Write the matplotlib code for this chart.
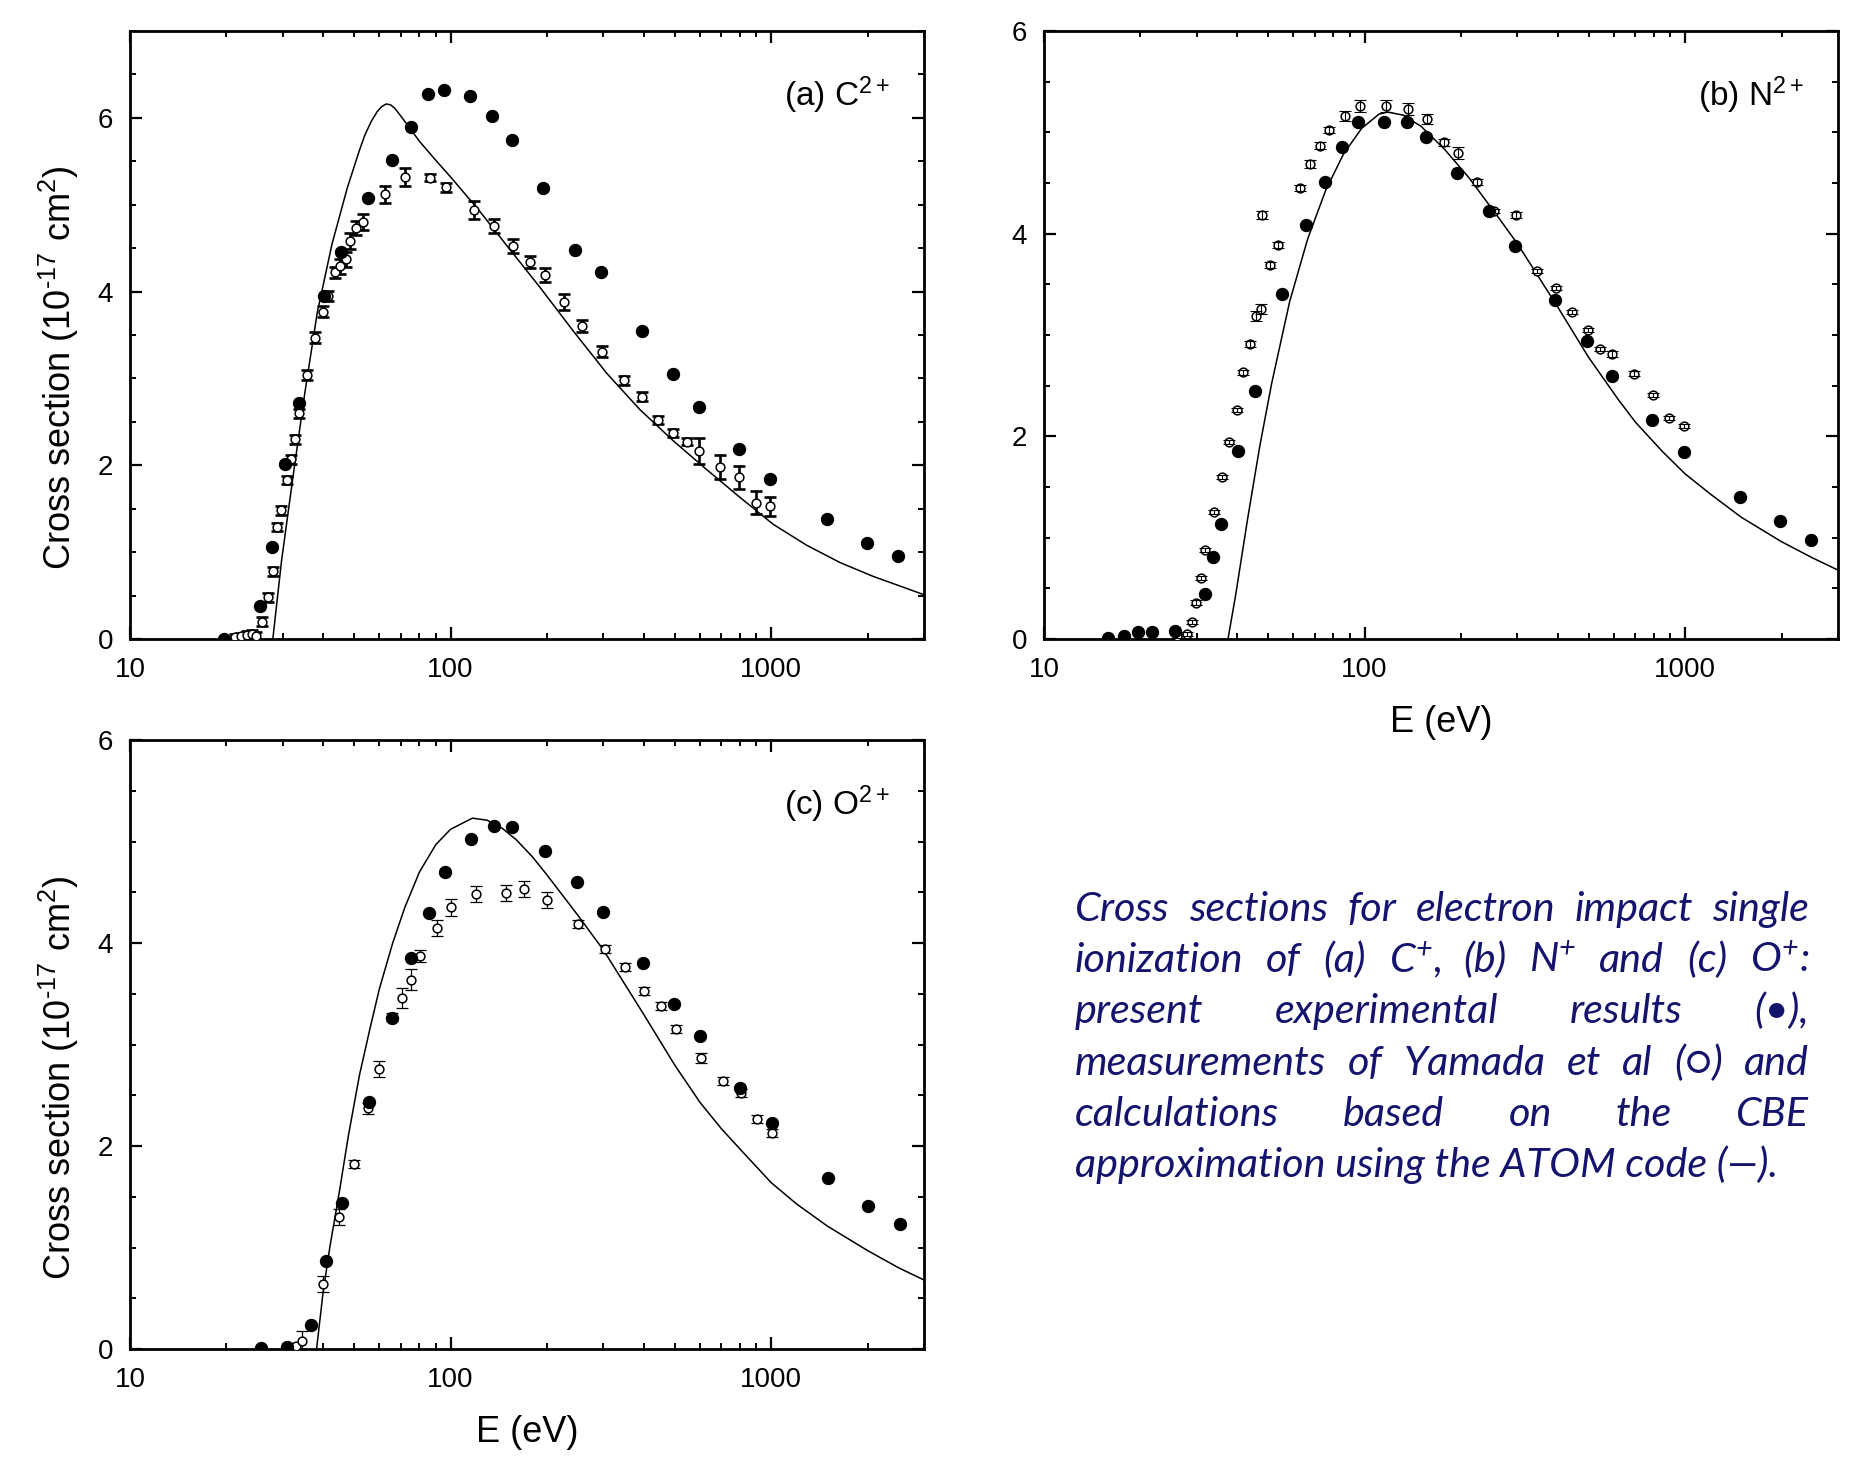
import matplotlib
matplotlib.use('Agg')
import matplotlib.pyplot as plt
from matplotlib.ticker import MultipleLocator, NullFormatter

plt.rcParams['font.family'] = ['Liberation Sans', 'DejaVu Sans']
plt.rcParams['mathtext.fontset'] = 'custom'
plt.rcParams['mathtext.rm'] = 'Liberation Sans'
plt.rcParams['mathtext.it'] = 'Liberation Sans:italic'
plt.rcParams['mathtext.default'] = 'regular'

# (a) C2+
a_exp_e = [19.6, 25.4, 27.7, 30.5, 33.6, 40.2, 45.6, 55.4, 65.5, 75.2, 84.9, 95.3, 115, 135, 155,
           195, 245, 295, 395, 495, 595, 795, 995, 1495, 1995, 2495]
a_exp_y = [0.0, 0.38, 1.06, 2.01, 2.72, 3.95, 4.45, 5.08, 5.52, 5.89, 6.27, 6.32, 6.25, 6.02, 5.74,
           5.19, 4.48, 4.22, 3.55, 3.05, 2.67, 2.19, 1.84, 1.38, 1.10, 0.96]
a_yam_e = [21.3, 22.2, 23.1, 24.0, 24.8, 25.8, 27.0, 28.0, 28.8, 29.6, 30.9, 31.7, 32.7, 33.6, 35.6,
           37.9, 39.9, 41.6, 43.6, 45.2, 47.2, 48.6, 50.6, 53.5, 62.4, 72.3, 86.2, 97, 118, 137,
           157, 177, 197, 226, 257, 296, 348, 397, 444, 495, 545, 597, 694, 796, 897, 993]
a_yam_y = [0.02, 0.03, 0.05, 0.06, 0.04, 0.20, 0.48, 0.78, 1.29, 1.48, 1.83, 2.07, 2.30, 2.60, 3.04,
           3.47, 3.77, 3.95, 4.22, 4.29, 4.37, 4.58, 4.73, 4.80, 5.12, 5.32, 5.31, 5.20, 4.94, 4.76,
           4.52, 4.34, 4.19, 3.88, 3.60, 3.31, 2.98, 2.79, 2.52, 2.37, 2.27, 2.16, 1.98, 1.86, 1.57, 1.53]
a_yam_err = [0.04, 0.04, 0.04, 0.04, 0.04, 0.05, 0.05, 0.05, 0.05, 0.05, 0.05, 0.05, 0.05, 0.05, 0.06,
             0.06, 0.06, 0.06, 0.06, 0.09, 0.09, 0.09, 0.08, 0.09, 0.10, 0.10, 0.04, 0.05, 0.10, 0.08,
             0.08, 0.07, 0.08, 0.09, 0.07, 0.06, 0.05, 0.05, 0.05, 0.05, 0.04, 0.15, 0.14, 0.13, 0.13, 0.11]
a_cbe_e = [27.9, 29.7, 32.2, 35.1, 38.4, 42.7, 47.6, 51.9, 54, 56.6, 59, 61, 63, 65, 67,
           70, 74, 80, 90, 100, 123, 152, 190, 241, 307, 390, 496, 630, 800, 1016,
           1291, 1641, 2085, 3000]
a_cbe_y = [0.0, 0.90, 1.85, 2.83, 3.76, 4.55, 5.19, 5.62, 5.80, 5.96, 6.07, 6.13, 6.16, 6.15, 6.11,
           6.02, 5.90, 5.73, 5.51, 5.32, 4.93, 4.50, 4.05, 3.55, 3.06, 2.64, 2.28, 1.95, 1.63, 1.32,
           1.08, 0.88, 0.72, 0.51]

# (b) N2+
b_exp_e = [15.8, 17.8, 19.6, 21.7, 25.6, 31.7, 33.6, 35.6, 40.4, 45.4, 55.4, 65.6, 75.3, 85, 95.3,
           115, 136, 155, 195, 244, 295, 393, 494, 591, 789, 991, 1486, 1974, 2471]
b_exp_y = [0.01, 0.03, 0.07, 0.07, 0.08, 0.44, 0.81, 1.13, 1.86, 2.45, 3.40, 4.09, 4.51, 4.86, 5.10,
           5.10, 5.10, 4.95, 4.60, 4.22, 3.88, 3.35, 2.94, 2.60, 2.16, 1.85, 1.40, 1.16, 0.98]
b_yam_e = [26, 27.9, 29, 29.9, 30.9, 31.7, 33.8, 35.9, 37.9, 40, 41.8, 44, 45.9, 47.7, 47.9,
           50.7, 53.9, 62.8, 67.6, 72.8, 77.6, 87.2, 97, 117, 137, 157, 177, 196, 224, 254,
           296, 344, 396, 445, 498, 543, 592, 694, 796, 893, 990]
b_yam_y = [0.03, 0.05, 0.17, 0.36, 0.60, 0.88, 1.25, 1.60, 1.94, 2.26, 2.63, 2.91, 3.19, 3.26, 4.18,
           3.69, 3.89, 4.45, 4.69, 4.87, 5.02, 5.16, 5.26, 5.26, 5.23, 5.13, 4.90, 4.80, 4.51, 4.22,
           4.18, 3.63, 3.46, 3.23, 3.05, 2.86, 2.81, 2.62, 2.41, 2.18, 2.10]
b_yam_err = [0.02, 0.02, 0.02, 0.02, 0.02, 0.02, 0.02, 0.02, 0.02, 0.02, 0.02, 0.03, 0.05, 0.05, 0.04,
             0.03, 0.03, 0.03, 0.04, 0.03, 0.03, 0.05, 0.06, 0.06, 0.06, 0.05, 0.03, 0.06, 0.03, 0.02,
             0.03, 0.02, 0.02, 0.02, 0.02, 0.02, 0.03, 0.02, 0.02, 0.02, 0.02]
b_cbe_e = [37.5, 39.6, 43.2, 47.1, 51.3, 58.4, 66.5, 75.7, 86.1, 98, 111, 118, 132, 150, 178,
           212, 263, 300, 400, 500, 620, 700, 850, 1000, 1200, 1500, 2000, 2500, 3000]
b_cbe_y = [0.0, 0.43, 1.19, 1.90, 2.52, 3.33, 3.95, 4.43, 4.79, 5.04, 5.18, 5.20, 5.17, 5.06, 4.83,
           4.55, 4.15, 3.90, 3.28, 2.78, 2.36, 2.14, 1.85, 1.63, 1.43, 1.20, 0.96, 0.80, 0.68]

# (c) O2+
c_exp_e = [25.6, 30.9, 36.7, 40.8, 45.7, 55.8, 65.8, 75.5, 85.6, 96.1, 116, 137, 156, 197, 248,
           299, 398, 499, 601, 802, 1009, 1507, 2012, 2518]
c_exp_y = [0.01, 0.02, 0.24, 0.87, 1.44, 2.43, 3.26, 3.85, 4.30, 4.70, 5.02, 5.15, 5.14, 4.91, 4.60,
           4.31, 3.80, 3.40, 3.08, 2.57, 2.23, 1.68, 1.41, 1.23]
c_yam_e = [33, 34.5, 40, 45, 50.1, 55.1, 60, 65.8, 70.5, 75.5, 80.5, 90.5, 100, 120, 149,
           170, 200, 250, 303, 350, 402, 454, 505, 603, 707, 806, 905, 1009]
c_yam_y = [0.03, 0.08, 0.64, 1.30, 1.82, 2.37, 2.76, 3.27, 3.46, 3.64, 3.87, 4.15, 4.35, 4.48, 4.49,
           4.53, 4.42, 4.19, 3.94, 3.76, 3.53, 3.38, 3.15, 2.87, 2.64, 2.52, 2.27, 2.13]
c_yam_err = [0.03, 0.10, 0.08, 0.08, 0.04, 0.05, 0.08, 0.04, 0.10, 0.10, 0.06, 0.08, 0.08, 0.08, 0.08,
             0.08, 0.08, 0.04, 0.04, 0.04, 0.04, 0.04, 0.04, 0.05, 0.04, 0.04, 0.04, 0.04]
c_cbe_e = [38.2, 40, 42, 45, 48, 52, 56, 60, 66, 72, 80, 90, 100, 117, 130,
           145, 160, 180, 200, 250, 300, 400, 500, 600, 700, 800, 1000, 1200, 1500, 2000, 2500, 3000]
c_cbe_y = [0.0, 0.55, 1.0, 1.55, 2.1, 2.7, 3.15, 3.55, 4.0, 4.35, 4.70, 4.97, 5.12, 5.23, 5.21,
           5.13, 5.02, 4.85, 4.67, 4.27, 3.93, 3.30, 2.80, 2.43, 2.17, 1.97, 1.64, 1.43, 1.21, 0.97, 0.80, 0.68]

x_major = [10, 100, 1000]
x_major_labels = ['10', '100', '1000']
x_minor = [20, 30, 40, 50, 60, 70, 80, 90, 200, 300, 400, 500, 600, 700, 800, 900, 2000, 3000]

caption_lines = [
    'Cross sections for electron impact single',
    'ionization of (a) C$^{+}$, (b) N$^{+}$ and (c) O$^{+}$:',
    'present experimental results (\u2022),',
    'measurements of Yamada et al (\u25cb) and',
    'calculations based on the CBE',
    'approximation using the ATOM code (\u2014).',
]

W, H = 1870, 1458


def draw_panel(rect, exp_e, exp_y, yam_e, yam_y, yam_err, cbe_e, cbe_y, tag, ymax,
               bar_lw, bars_on_top, ylabel, xlabel):
    ax = fig.add_axes(rect)
    ax.plot(cbe_e, cbe_y, color='black', lw=1.1, zorder=2)
    mz, bz = (3, 4) if bars_on_top else (4, 3)
    ax.errorbar(yam_e, yam_y, yerr=yam_err, fmt='none', ecolor='black', elinewidth=bar_lw,
                capsize=4.6, capthick=bar_lw, zorder=bz)
    ax.plot(yam_e, yam_y, 'o', ms=6.3, mfc='white', mec='black', mew=1.1, zorder=mz)
    ax.plot(exp_e, exp_y, 'o', ms=8.6, color='black', mec='black', zorder=5)

    ax.set_xscale('log')
    ax.set_xlim(10, 3000)
    ax.set_ylim(0, ymax)
    ax.set_xticks(x_major, labels=x_major_labels)
    ax.set_xticks(x_minor, minor=True)
    ax.xaxis.set_minor_formatter(NullFormatter())
    ax.set_yticks(list(range(0, int(ymax) + 1, 2)))
    ax.yaxis.set_minor_locator(MultipleLocator(0.5))
    ax.tick_params(which='both', direction='in', top=True, right=True, labelsize=20)
    ax.tick_params(axis='y', which='both', pad=12)
    ax.tick_params(axis='x', which='both', pad=13)
    ax.tick_params(which='major', length=8.5, width=1.6)
    ax.tick_params(which='minor', length=4.3, width=1.4)
    for s in ax.spines.values():
        s.set_linewidth(2.0)

    ax.text(0.957, 0.877, tag, transform=ax.transAxes, ha='right', va='baseline', fontsize=24)
    if ylabel:
        ax.set_ylabel('Cross section (10$^{\u201017}$ cm$^{2}$)', fontsize=26)
        ax.yaxis.set_label_coords(-0.062, 0.446)
    if xlabel:
        ax.set_xlabel('E (eV)', fontsize=26)
        ax.xaxis.set_label_coords(0.5, -0.108)
    return ax


def draw_caption():
    renderer = fig.canvas.get_renderer()
    x0, x1 = 1075, 1809
    base0, step = 921, 51.2
    style = dict(family=['Lato', 'DejaVu Sans'], style='italic', color='#14146e', va='baseline')

    # size the caption so the last (unjustified) line has its natural width
    probe = fig.text(0, 0, caption_lines[-1], fontsize=20, **style)
    size = 20 * 702 / probe.get_window_extent(renderer).width
    probe.remove()

    for i, line in enumerate(caption_lines):
        yf = 1 - (base0 + i * step) / H
        if i == len(caption_lines) - 1:
            fig.text(x0 / W, yf, line, fontsize=size, **style)
            continue
        words = [fig.text(0, yf, w, fontsize=size, **style) for w in line.split()]
        widths = [t.get_window_extent(renderer).width for t in words]
        gap = (x1 - x0 - sum(widths)) / (len(words) - 1)
        x = x0
        for t, w in zip(words, widths):
            t.set_x(x / W)
            x += w + gap


fig = plt.figure(figsize=(W / 100, H / 100), dpi=100)

draw_panel([130 / W, 1 - 639 / H, 794 / W, 608 / H], a_exp_e, a_exp_y, a_yam_e, a_yam_y, a_yam_err,
           a_cbe_e, a_cbe_y, '(a) C$^{2+}$', 7, 1.9, False, True, False)
draw_panel([1044 / W, 1 - 639 / H, 794 / W, 608 / H], b_exp_e, b_exp_y, b_yam_e, b_yam_y, b_yam_err,
           b_cbe_e, b_cbe_y, '(b) N$^{2+}$', 6, 0.8, True, False, True)
draw_panel([130 / W, 1 - 1349 / H, 794 / W, 609 / H], c_exp_e, c_exp_y, c_yam_e, c_yam_y, c_yam_err,
           c_cbe_e, c_cbe_y, '(c) O$^{2+}$', 6, 0.9, False, True, True)
draw_caption()

fig.savefig('out.png', dpi=100)
